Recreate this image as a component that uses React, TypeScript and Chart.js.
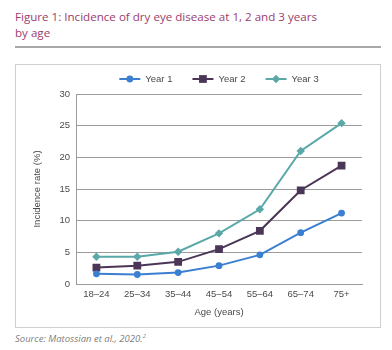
import React, { useEffect, useRef } from "react";
import { Chart, registerables } from "chart.js";
Chart.register(...registerables);

const ageGroups = ["18–24", "25–34", "35–44", "45–54", "55–64", "65–74", "75+"];
const year1 = [1.6, 1.5, 1.8, 2.9, 4.6, 8.1, 11.2];
const year2 = [2.6, 2.9, 3.5, 5.5, 8.4, 14.8, 18.7];
const year3 = [4.3, 4.3, 5.1, 8.0, 11.8, 21.0, 25.4];
const seriesNames = ["Year 1", "Year 2", "Year 3"];
const yTicks = [0, 5, 10, 15, 20, 25, 30];

const FONT = '"Liberation Sans", Arial, sans-serif';
const TEXT = "#4a4a4a";
const GRID = "#9c9c9c";

function drawMarker(ctx: CanvasRenderingContext2D, style: string, x: number, y: number, r: number, color: string) {
  ctx.fillStyle = color;
  ctx.beginPath();
  if (style === "circle") {
    ctx.arc(x, y, r, 0, Math.PI * 2);
  } else if (style === "rect") {
    const s = Math.SQRT1_2 * r;
    ctx.rect(x - s, y - s, 2 * s, 2 * s);
  } else {
    ctx.moveTo(x, y - r);
    ctx.lineTo(x + r, y);
    ctx.lineTo(x, y + r);
    ctx.lineTo(x - r, y);
    ctx.closePath();
  }
  ctx.fill();
}

const lineLegend = {
  id: "lineLegend",
  afterDraw(chart: any) {
    const ctx = chart.ctx as CanvasRenderingContext2D;
    const ds = chart.data.datasets;
    ctx.save();
    ctx.font = `9.5px ${FONT}`;
    const lineLen = 21, gap = 5, itemGap = 20;
    const widths = ds.map((d: any) => lineLen + gap + ctx.measureText(d.label).width);
    const total = widths.reduce((a: number, b: number) => a + b, 0) + itemGap * (ds.length - 1);
    let x = (chart.chartArea.left + chart.chartArea.right) / 2 - total / 2;
    const y = 14;
    ds.forEach((d: any, i: number) => {
      ctx.strokeStyle = d.borderColor;
      ctx.lineWidth = 2;
      ctx.beginPath();
      ctx.moveTo(x, y);
      ctx.lineTo(x + lineLen, y);
      ctx.stroke();
      drawMarker(ctx, d.pointStyle, x + lineLen / 2, y, d.pointRadius, d.borderColor);
      ctx.fillStyle = TEXT;
      ctx.textAlign = "left";
      ctx.textBaseline = "middle";
      ctx.fillText(d.label, x + lineLen + gap, y);
      x += widths[i] + itemGap;
    });
    ctx.restore();
  },
};

export default function App() {
  const ref = useRef<HTMLCanvasElement>(null);
  useEffect(() => {
    if (!ref.current) return;
    const colors = ["#3a7fd0", "#4b3657", "#5aa8a8"];
    const styles = ["circle", "rect", "rectRot"];
    const radii = [3.4, 5.5, 4.2];
    const data = [year1, year2, year3];
    const chart = new Chart(ref.current, {
      type: "line",
      data: {
        labels: ageGroups,
        datasets: seriesNames.map((name, i) => ({
          label: name,
          data: data[i],
          borderColor: colors[i],
          backgroundColor: colors[i],
          borderWidth: 2,
          pointStyle: styles[i] as any,
          pointRadius: radii[i],
          pointBorderWidth: 0,
          pointBackgroundColor: colors[i],
          tension: 0,
        })),
      },
      options: {
        animation: false,
        responsive: false,
        maintainAspectRatio: false,
        layout: { padding: { top: 29, right: 19, left: 0, bottom: 0 } },
        plugins: { legend: { display: false }, tooltip: { enabled: false } },
        scales: {
          x: {
            offset: true,
            grid: { display: false, drawTicks: false },
            border: { display: true, color: GRID, width: 1 },
            ticks: { color: TEXT, font: { size: 9.5, family: FONT }, padding: 5, maxRotation: 0, autoSkip: false },
            title: { display: true, text: "Age (years)", color: TEXT, font: { size: 9.5, family: FONT }, padding: { top: 0, bottom: 10 } },
            afterFit: (s: any) => { s.height = 44; },
          },
          y: {
            min: 0,
            max: 30,
            afterBuildTicks: (s: any) => { s.ticks = yTicks.map((v) => ({ value: v })); },
            grid: { color: GRID, drawTicks: false },
            border: { display: true, color: GRID, width: 1 },
            ticks: { color: TEXT, font: { size: 9.5, family: FONT }, padding: 6 },
            title: { display: true, text: "Incidence rate (%)", color: TEXT, font: { size: 9.5, family: FONT }, padding: { top: 17, bottom: 0 } },
            afterFit: (s: any) => { s.width = 61; },
          },
        },
      },
      plugins: [lineLegend],
    });
    return () => chart.destroy();
  }, []);

  return (
    <div style={{ position: "absolute", left: 0, top: 0, width: 392, height: 350, background: "#fff" }}>
      <div style={{ position: "absolute", left: 15, top: 9, width: 370, fontFamily: '"Open Sans", sans-serif', fontSize: 11.6, lineHeight: "15.5px", color: "#9c3d6d" }}>
        Figure 1: Incidence of dry eye disease at 1, 2 and 3 years
        <br />
        by age
      </div>
      <div style={{ position: "absolute", left: 15, top: 46, width: 366, height: 2, background: "#a8a8a8" }} />
      <div style={{ position: "absolute", left: 15, top: 64, width: 366, height: 264, border: "1px solid #cfcfcf", boxSizing: "border-box" }} />
      <div style={{ position: "absolute", left: 15, top: 65, width: 366, height: 263 }}>
        <canvas ref={ref} width={366} height={263} style={{ display: "block", width: 366, height: 263 }} />
      </div>
      <div style={{ position: "absolute", left: 15, top: 330, fontFamily: '"Open Sans", sans-serif', fontStyle: "italic", fontSize: 9.5, lineHeight: "12px", color: "#808080" }}>
        Source: Matossian et al., 2020.<sup style={{ fontSize: 6, verticalAlign: "4px" }}>2</sup>
      </div>
    </div>
  );
}
